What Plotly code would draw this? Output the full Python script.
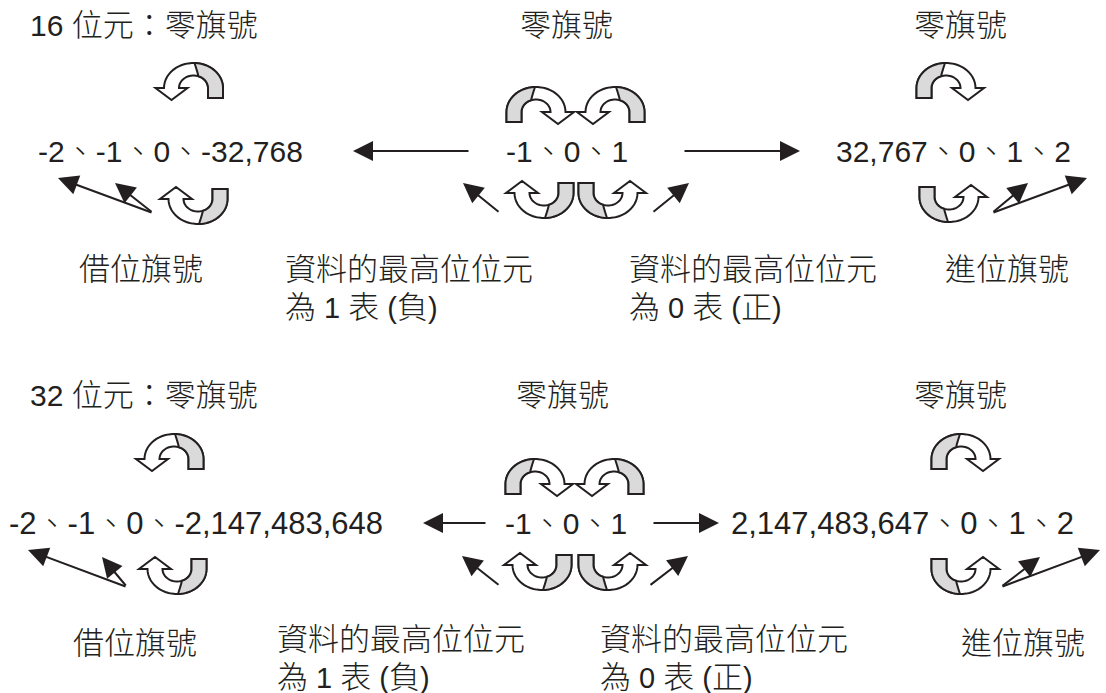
import numpy as np
import plotly.graph_objects as go

W, H = 1106, 693
INK = "#231f20"
GRAY = "#dadada"
LATIN = "Liberation Sans, Arial, sans-serif"
CJK = "Noto Sans CJK TC, Noto Sans CJK SC, sans-serif"
LATIN_PX = 30
CJK_PX = 31

# ---------------- text content ----------------
titles = ["16 位元：零旗號", "32 位元：零旗號"]
zero_flag = "零旗號"
left_values = ["-2、-1、0、-32,768", "-2、-1、0、-2,147,483,648"]
center_values = ["-1、0、1", "-1、0、1"]
right_values = ["32,767、0、1、2", "2,147,483,647、0、1、2"]
borrow_label = "借位旗號"
carry_label = "進位旗號"
msb_label = "資料的最高位位元"
msb_neg = "為 1 表 (負)"
msb_pos = "為 0 表 (正)"

# ---------------- layout positions (pixels) ----------------
title_pos = [(28, 22), (28, 392)]
zero_center_pos = [(566, 22), (562, 392)]
zero_right_pos = [(960, 22), (960, 392)]
value_px = [30, 31]
left_val_pos = [(36, 148), (7, 520)]
center_val_pos = [(504, 148), (503, 520)]
right_val_pos = [(834, 148), (729, 520)]
borrow_pos = [(77, 266), (71, 640)]
msb_left_pos = [(283, 285), (275, 655)]      # two-line block centre
msb_right_pos = [(627, 285), (598, 655)]
carry_pos = [(943, 266), (959, 640)]

# straight arrows: (start_x, start_y, tip_x, tip_y)
straight_arrows = [
    (470, 151, 353, 151), (683, 151, 800, 151),
    (153, 213, 58, 178), (153, 213, 115, 183),
    (500, 213, 463, 183), (652, 213, 689, 183),
    (992, 213, 1028, 183), (992, 213, 1087, 178),
    (487, 523, 423, 523), (652, 523, 719, 523),
    (127, 587, 28, 550), (127, 587, 102, 557),
    (500, 586, 462, 556), (649, 586, 688, 556),
    (1001, 587, 1040, 557), (1001, 587, 1100, 550),
]

# curved arrows: (center_x, base_y, arc direction, head side)
curved_arrows = [
    (193.5, 88, "up", "L"), (198, 199, "down", "L"),
    (536, 112, "up", "R"), (615, 112, "up", "L"),
    (544, 193, "down", "L"), (608, 193, "down", "R"),
    (946, 88, "up", "R"), (949, 197, "down", "R"),
    (174, 459, "up", "L"), (177, 569, "down", "L"),
    (535, 484, "up", "R"), (614, 484, "up", "L"),
    (542, 565, "down", "L"), (608, 565, "down", "R"),
    (961, 459, "up", "R"), (961, 569, "down", "R"),
]


def is_cjk(ch):
    return ord(ch) >= 0x2E80


def rich(text):
    """Wrap runs of CJK characters in a span with the CJK font."""
    out, run, mode = [], "", None
    for ch in text:
        m = is_cjk(ch)
        if mode is None or m == mode:
            run += ch
        else:
            out.append((mode, run))
            run = ch
        mode = m
    if run:
        out.append((mode, run))
    parts = []
    for m, r in out:
        if m:
            parts.append(f'<span style="font-family:{CJK};font-size:{CJK_PX}px;'
                         f'font-weight:300">{r}</span>')
        else:
            parts.append(r)
    return "".join(parts)


fig = go.Figure()
annotations = []


def add_text(text, x, y, anchor="left", size=LATIN_PX):
    annotations.append(dict(
        x=x, y=y, xref="x", yref="y", text=text, showarrow=False,
        xanchor=anchor, yanchor="middle", align="left",
        font=dict(family=LATIN, size=size, color=INK),
    ))


for i in range(2):
    add_text(rich(titles[i]), *title_pos[i])
    add_text(rich(zero_flag), *zero_center_pos[i], anchor="center")
    add_text(rich(zero_flag), *zero_right_pos[i], anchor="center")
    add_text(rich(left_values[i]), *left_val_pos[i], size=value_px[i])
    add_text(rich(center_values[i]), *center_val_pos[i])
    add_text(rich(right_values[i]), *right_val_pos[i], size=value_px[i])
    add_text(rich(borrow_label), *borrow_pos[i])
    add_text(rich(msb_label) + "<br>" + rich(msb_neg), *msb_left_pos[i], size=29)
    add_text(rich(msb_label) + "<br>" + rich(msb_pos), *msb_right_pos[i], size=29)
    add_text(rich(carry_label), *carry_pos[i])

for sx, sy, tx, ty in straight_arrows:
    annotations.append(dict(
        x=tx, y=ty, ax=sx, ay=sy, xref="x", yref="y", axref="x", ayref="y",
        text="", showarrow=True, arrowhead=2, arrowsize=2.0, arrowwidth=2,
        arrowcolor=INK,
    ))

# ---------------- curved arrow geometry ----------------
RC, HW_BAND = 22.0, 7.5
RXO, RXI = RC + HW_BAND, RC - HW_BAND
RYO, RYI = 25.0, 12.5
TAIL, HEAD_HW, HEAD_LEN = 10.0, 16.0, 12.0


def ell(cx, cy, rx, ry, s, t0, t1, n=28):
    ts = np.linspace(t0, t1, n)
    return [(cx + rx * np.cos(t), cy + s * ry * np.sin(t)) for t in ts]


def qbez(p0, p1, p2, n=16):
    ts = np.linspace(0, 1, n)
    return [((1 - t) ** 2 * p0[0] + 2 * (1 - t) * t * p1[0] + t ** 2 * p2[0],
             (1 - t) ** 2 * p0[1] + 2 * (1 - t) * t * p1[1] + t ** 2 * p2[1]) for t in ts]


def to_path(pts):
    return "M " + " L ".join(f"{x:.2f},{y:.2f}" for x, y in pts) + " Z"


shapes = []
for cx, base, d, side in curved_arrows:
    s = -1 if d == "up" else 1
    h = 1 if side == "R" else -1
    t_head = 0.0 if h > 0 else np.pi
    t_tail = np.pi - t_head
    hc = cx + h * RC
    tail_y = base - s * TAIL
    pts = [(cx + h * RXO, base), (hc + h * HEAD_HW, base), (hc, base - s * HEAD_LEN),
           (hc - h * HEAD_HW, base), (cx + h * RXI, base)]
    pts += ell(cx, base, RXI, RYI, s, t_head, t_tail)
    pts += [(cx - h * RXI, tail_y), (cx - h * RXO, tail_y)]
    pts += ell(cx, base, RXO, RYO, s, t_tail, t_head)
    shapes.append(dict(type="path", xref="x", yref="y", path=to_path(pts),
                       fillcolor="white", line=dict(color=INK, width=2)))
    # gray back face on the tail side, tapering to a point at the top
    t_top = np.arccos(-h * 1.0 / RXO)
    top_pt = (cx - h * 1.0, base + s * RYO * np.sin(t_top))
    t_mid = t_tail + (np.pi / 2 - t_tail) * (70.0 / 90.0)
    g = ell(cx, base, RXO, RYO, s, t_top, t_tail)
    g += [(cx - h * RXO, tail_y), (cx - h * RXI, tail_y)]
    g += ell(cx, base, RXI, RYI, s, t_tail, t_mid, n=18)
    mid_pt = (cx + RXI * np.cos(t_mid), base + s * RYI * np.sin(t_mid))
    ctrl = (cx - h * 3.5, base + s * (RYI + 5.0))
    g += qbez(mid_pt, ctrl, top_pt)[1:]
    shapes.append(dict(type="path", xref="x", yref="y", path=to_path(g),
                       fillcolor=GRAY, line=dict(color=INK, width=2)))

fig.update_layout(
    width=W, height=H, margin=dict(l=0, r=0, t=0, b=0),
    paper_bgcolor="white", plot_bgcolor="white",
    xaxis=dict(range=[0, W], visible=False, fixedrange=True),
    yaxis=dict(range=[H, 0], visible=False, fixedrange=True),
    shapes=shapes, annotations=annotations, showlegend=False,
)
# remove the default 8px page margin so the 1106x693 figure fills the window
fig.write_html("out.html", config={"displayModeBar": False},
               post_script="document.body.style.margin='0';")
